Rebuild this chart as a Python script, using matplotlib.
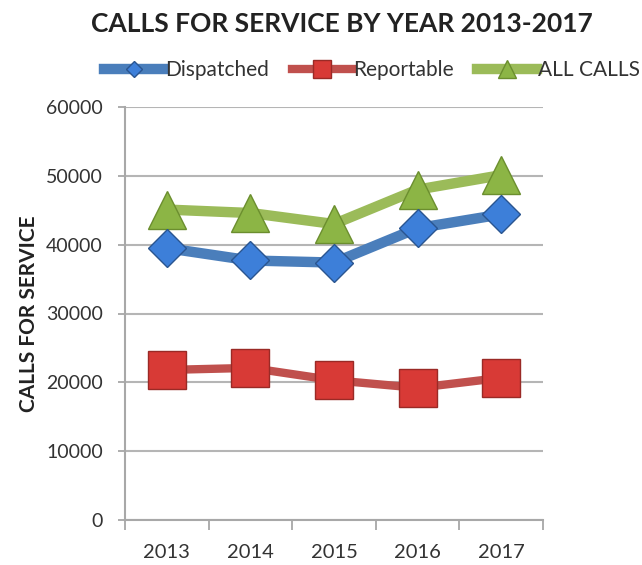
import matplotlib
matplotlib.use("Agg")
import matplotlib.pyplot as plt

years = ["2013", "2014", "2015", "2016", "2017"]
dispatched = [39500, 37700, 37400, 42400, 44400]
reportable = [21800, 22100, 20300, 19200, 20650]
all_calls = [45100, 44600, 43000, 48000, 50100]
yticks = [0, 10000, 20000, 30000, 40000, 50000, 60000]

plt.rcParams['font.family'] = ['Lato', 'DejaVu Sans']

W, H = 642, 565
fig = plt.figure(figsize=(W / 100, H / 100), dpi=100)
ax = fig.add_axes([125 / W, 1 - 520 / H, (543 - 125) / W, (520 - 107) / H])

x = list(range(len(years)))
ax.plot(x, all_calls, color='#9bbb59', lw=7.5, marker='^', ms=28,
        mfc='#8cb545', mec='#6b8e2e', mew=1, label='ALL CALLS', zorder=3)
ax.plot(x, dispatched, color='#4a7ebb', lw=7.5, marker='D', ms=19,
        mfc='#3d7fd9', mec='#2a5590', mew=1, label='Dispatched', zorder=4)
ax.plot(x, reportable, color='#c0504d', lw=6, marker='s', ms=28,
        mfc='#d83a36', mec='#9a2a26', mew=1, label='Reportable', zorder=3)

ax.set_xlim(-0.5, len(years) - 0.5)
ax.set_ylim(0, 60000)
ax.set_yticks(yticks)
ax.set_yticklabels([str(v) for v in yticks])
ax.set_xticks(x)
ax.set_xticklabels(years)
ax.set_xticks([i + 0.5 for i in range(-1, len(years))], minor=True)
ax.tick_params(axis='x', which='major', length=0, pad=17, labelsize=14.5, colors='#333333')
ax.tick_params(axis='x', which='minor', length=7, color='#a0a0a0', width=1.2)
ax.tick_params(axis='y', length=5, color='#a0a0a0', width=1.2, pad=11, labelsize=14, colors='#333333')
ax.yaxis.grid(True, color='#b5b5b5', lw=1.5)
ax.set_axisbelow(True)
for s in ['top', 'right']:
    ax.spines[s].set_visible(False)
for s in ['left', 'bottom']:
    ax.spines[s].set_color('#a8a8a8')
    ax.spines[s].set_linewidth(1.5)

ax.set_ylabel('CALLS FOR SERVICE', fontsize=15, fontweight='bold', color='#222222')
ax.yaxis.set_label_coords(-0.205, 0.5)

fig.text(341.5 / W, 1 - 32 / H, 'CALLS FOR SERVICE BY YEAR 2013-2017',
         ha='center', va='baseline', fontsize=19, fontweight='bold', color='#222222')

h, l = ax.get_legend_handles_labels()
order = [1, 2, 0]
leg = fig.legend([h[i] for i in order], [l[i] for i in order], loc='center',
                 bbox_to_anchor=(372 / W, 1 - 70 / H), ncol=3, frameon=False,
                 fontsize=15, handlelength=2.9, handletextpad=0.05,
                 columnspacing=1.1, markerscale=0.45,
                 borderpad=0, borderaxespad=0)
for t in leg.get_texts():
    t.set_color('#333333')

fig.savefig('out.png', dpi=100)
